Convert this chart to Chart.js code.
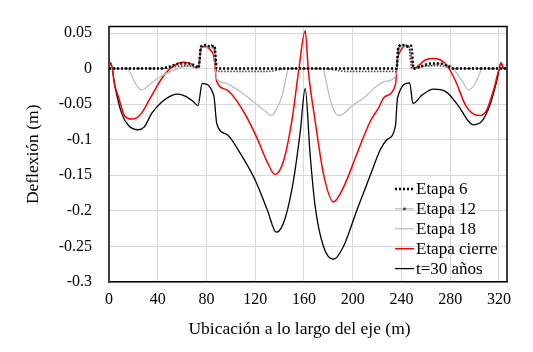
<!DOCTYPE html>
<html>
<head>
<meta charset="utf-8">
<script src="https://cdn.jsdelivr.net/npm/chart.js@4.4.1/dist/chart.umd.min.js"></script>
<style>
  html, body { margin: 0; padding: 0; background: #fff; }
  #wrap { width: 533px; height: 352px; }
</style>
</head>
<body>
<div id="wrap"><canvas id="grafico" width="533" height="352"></canvas></div>
<script>
const xTicks = [0, 40, 80, 120, 160, 200, 240, 280, 320];
const yTicks = [0.05, 0, -0.05, -0.1, -0.15, -0.2, -0.25, -0.3];

// Etapa 6
const etapa6X = [0, 42, 50, 58, 65, 71, 73.5, 75.5, 79, 83, 86.5, 88.5, 150, 176, 236, 237.5, 241, 245, 248, 250, 256, 264, 272, 279, 283, 326];
const etapa6Y = [0, 0, 0.003, 0.007, 0.007, 0.004, 0.001, 0.031, 0.033, 0.031, 0.032, 0, 0, 0, 0, 0.031, 0.033, 0.031, 0.032, 0, 0.003, 0.007, 0.007, 0.003, 0, 0];

// Etapa 12
const etapa12X = [0, 45, 55, 65, 73, 75.5, 80, 84, 86.5, 88.5, 100, 130, 146, 176, 195, 215, 235.5, 237.5, 242, 246, 248.5, 256, 266, 276, 281, 326];
const etapa12Y = [0, 0, 0.003, 0.004, 0.001, 0.029, 0.031, 0.033, 0.029, -0.004, -0.004, -0.004, 0, 0, -0.004, -0.004, -0.004, 0.029, 0.033, 0.031, 0, 0.003, 0.004, 0.003, 0, 0];

// Etapa 18
const etapa18X = [0, 15, 18, 22, 26.9, 31, 38, 48, 58, 65, 71, 73.4, 75.8, 80, 85.7, 88.4, 95, 102, 110, 118, 127, 133.6, 138, 142, 145, 147.3, 175.5, 177.5, 181.5, 185, 189, 200, 210, 218, 227, 235, 236.8, 241, 246, 249.5, 259.5, 266, 273, 281.5, 286, 290, 295, 300.6, 304, 306, 326];
const etapa18Y = [0, 0, -0.008, -0.022, -0.03, -0.026, -0.016, -0.006, 0.001, 0.004, 0.002, 0, 0.03, 0.03, 0.028, -0.014, -0.02, -0.026, -0.035, -0.046, -0.058, -0.066, -0.055, -0.038, -0.015, 0, 0, -0.012, -0.044, -0.06, -0.066, -0.052, -0.04, -0.027, -0.018, -0.011, 0.02, 0.031, 0.031, 0, 0.003, 0.005, 0.007, 0.002, -0.008, -0.018, -0.03, -0.021, -0.008, 0, 0];

// Etapa cierre
const cierreX = [0, 1.5, 4.5, 7.6, 13, 18.6, 23, 27, 33.7, 43.3, 51.5, 61, 67, 70.6, 73.4, 76, 85.7, 88.4, 96.7, 110.3, 121.3, 129.5, 136.3, 143.2, 150, 155.5, 161, 163.7, 169.2, 176, 184.2, 192.4, 203.4, 214.4, 221, 226, 235, 237, 245.8, 250, 259.5, 266.4, 276, 284, 292.4, 297.9, 304.7, 310, 315.6, 319.8, 321.7, 324, 326];
const cierreY = [0.002, 0.008, -0.022, -0.039, -0.067, -0.071, -0.069, -0.062, -0.042, -0.014, 0.002, 0.009, 0.007, 0.002, 0, 0.031, 0.02, -0.018, -0.03, -0.06, -0.097, -0.13, -0.149, -0.13, -0.074, -0.005, 0.053, -0.005, -0.074, -0.148, -0.1875, -0.167, -0.12, -0.074, -0.056, -0.04, -0.023, 0.016, 0.032, 0, 0.012, 0.014, 0.007, -0.016, -0.051, -0.0625, -0.066, -0.058, -0.03, -0.002, 0.008, 0, 0];

// t=30 años
const t30X = [0, 1.5, 5, 10.4, 16, 24, 29, 35, 43.3, 50, 56, 63, 69, 73, 76.5, 86, 88.5, 97, 108, 120, 130, 137.2, 141, 145, 151.4, 157, 161, 165, 169.2, 176, 184.2, 192.4, 203.4, 214.4, 222.6, 228, 235, 236.8, 246.7, 249.4, 257, 266.4, 276, 287, 295, 299, 306, 313, 318.4, 321.7, 324, 326];
const t30Y = [0.002, 0.008, -0.026, -0.063, -0.08, -0.086, -0.082, -0.063, -0.047, -0.039, -0.036, -0.039, -0.046, -0.052, -0.021, -0.038, -0.078, -0.093, -0.12, -0.157, -0.199, -0.23, -0.225, -0.208, -0.157, -0.088, -0.028, -0.12, -0.194, -0.25, -0.268, -0.25, -0.199, -0.15, -0.114, -0.1, -0.081, -0.041, -0.02, -0.049, -0.037, -0.029, -0.032, -0.053, -0.074, -0.079, -0.074, -0.049, -0.016, 0.008, 0, 0];

const tituloX = "Ubicación a lo largo del eje (m)";
const FUENTE = "'Liberation Serif', 'Times New Roman', serif";

function pares(xs, ys) {
  return xs.map((x, i) => ({ x, y: ys[i] }));
}

// marco superior y derecho del área de trazado
const marco = {
  id: "marco",
  afterDatasetsDraw(chart) {
    const { ctx, chartArea: a } = chart;
    ctx.save();
    ctx.strokeStyle = "#000";
    ctx.lineWidth = 1.5;
    ctx.beginPath();
    ctx.moveTo(a.left, a.top);
    ctx.lineTo(a.right, a.top);
    ctx.lineTo(a.right, a.bottom);
    ctx.stroke();
    ctx.restore();
  }
};

// leyenda dentro del área (abajo a la derecha) y título del eje x
const leyenda = {
  id: "leyenda",
  afterDraw(chart) {
    const { ctx, chartArea: a } = chart;
    const x0 = a.right - 112;
    const y0 = a.bottom - 93;
    ctx.save();
    ctx.font = "17px " + FUENTE;
    ctx.textBaseline = "middle";
    ctx.fillStyle = "#000";
    chart.data.datasets.forEach((ds, i) => {
      const y = y0 + i * 19.9;
      ctx.save();
      if (ds.muestra === "punto") {
        ctx.strokeStyle = "#a6a6a6";
        ctx.lineWidth = 1;
      } else {
        ctx.strokeStyle = ds.borderColor;
        ctx.lineWidth = ds.borderWidth;
        ctx.setLineDash(ds.borderDash || []);
      }
      ctx.beginPath();
      ctx.moveTo(x0, y);
      ctx.lineTo(x0 + 19, y);
      ctx.stroke();
      if (ds.muestra === "punto") {
        ctx.fillStyle = "#333";
        ctx.beginPath();
        ctx.arc(x0 + 9.5, y, 1.3, 0, Math.PI * 2);
        ctx.fill();
      }
      ctx.restore();
      ctx.fillText(ds.label, x0 + 21, y + 1);
    });

    // el título del eje x va algo a la izquierda del centro del área (como en Excel)
    ctx.font = "17.5px " + FUENTE;
    ctx.textAlign = "center";
    ctx.fillText(tituloX, (a.left + a.right) / 2 - 8.5, a.bottom + 47);
    ctx.restore();
  }
};

const comun = { pointRadius: 0, fill: false, cubicInterpolationMode: "monotone" };

new Chart(document.getElementById("grafico"), {
  type: "line",
  data: {
    datasets: [
      { ...comun, label: "Etapa 6", data: pares(etapa6X, etapa6Y), borderColor: "#000", borderWidth: 2.5, borderDash: [2, 2] },
      { ...comun, label: "Etapa 12", data: pares(etapa12X, etapa12Y), borderColor: "#444", borderWidth: 1.6, borderDash: [1.5, 1.5], muestra: "punto" },
      { ...comun, label: "Etapa 18", data: pares(etapa18X, etapa18Y), borderColor: "#bdbdbd", borderWidth: 1.3 },
      { ...comun, label: "Etapa cierre", data: pares(cierreX, cierreY), borderColor: "#ff0000", borderWidth: 1.5 },
      { ...comun, label: "t=30 años", data: pares(t30X, t30Y), borderColor: "#000", borderWidth: 1.3 }
    ]
  },
  options: {
    responsive: false,
    animation: false,
    layout: { padding: { top: 24, right: 26, bottom: 0, left: 0 } },
    plugins: {
      legend: { display: false },
      tooltip: { enabled: false }
    },
    scales: {
      x: {
        type: "linear",
        min: 0,
        max: 326.6,
        afterBuildTicks: (axis) => { axis.ticks = xTicks.map((v) => ({ value: v })); },
        afterFit: (scale) => { scale.height = 70; },
        ticks: { color: "#000", font: { family: FUENTE, size: 16 }, padding: 8, maxRotation: 0, autoSkip: false },
        grid: { color: "#d9d9d9", drawTicks: false },
        border: { color: "#000", width: 1.5 }
      },
      y: {
        min: -0.3,
        max: 0.059,
        afterBuildTicks: (axis) => { axis.ticks = yTicks.map((v) => ({ value: v })); },
        afterFit: (scale) => { scale.width = 109; },
        ticks: {
          color: "#000",
          font: { family: FUENTE, size: 16 },
          padding: 17,
          autoSkip: false,
          callback: (v) => String(Math.round(v * 100) / 100)
        },
        grid: { color: "#d9d9d9", drawTicks: false },
        border: { color: "#404040", width: 2 },
        title: {
          display: true,
          text: "Deflexión (m)",
          color: "#000",
          font: { family: FUENTE, size: 17.5 },
          padding: { top: 22.5, bottom: 0 }
        }
      }
    }
  },
  plugins: [marco, leyenda]
});
</script>
</body>
</html>
